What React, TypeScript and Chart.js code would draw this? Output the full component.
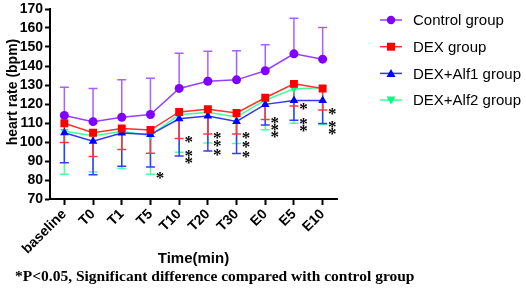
import React, { useEffect, useRef } from 'react';
import { Chart, registerables } from 'chart.js';

Chart.register(...registerables);

const categories = ['baseline', 'T0', 'T1', 'T5', 'T10', 'T20', 'T30', 'E0', 'E5', 'E10'];

const controlMean = [114, 110.7, 113, 114.5, 128.2, 132, 132.7, 137.5, 146.4, 143.6];
const controlUpper = [128.8, 128.2, 132.8, 133.6, 146.7, 147.8, 148, 151.2, 165.1, 160.3];

const dexMean = [109.9, 104.9, 107.1, 106.3, 115.8, 117.2, 115.3, 123.3, 130.6, 128.2];
const dexLower = [99.7, 92.4, 96, 94.1, 101.9, 104.2, 104.2, 111.8, 119, 116.8];

const alf1Mean = [104.9, 100.4, 104.7, 103.9, 112.2, 113.7, 110.8, 119.8, 121.9, 121.9];
const alf1Lower = [89.1, 82.7, 87.2, 86.8, 92.6, 95.2, 94, 108.9, 111.5, 109.7];

const alf2Mean = [105.7, 103.3, 105.5, 103.5, 114.4, 115.6, 113.2, 122, 128, 128.5];
const alf2Lower = [83, 84.2, 86, 83, 94.6, 99.5, 99.2, 106.5, 109.9, 109.2];

// significance vs control (1 = *P<0.05)
const dexSig = [0, 0, 0, 0, 1, 1, 1, 1, 1, 1];
const alf1Sig = [0, 0, 0, 0, 1, 1, 1, 1, 1, 1];
const alf2Sig = [0, 0, 0, 1, 1, 1, 1, 1, 1, 1];

const yTicks = [70, 80, 90, 100, 110, 120, 130, 140, 150, 160, 170];

const seriesNames = ['Control group', 'DEX group', 'DEX+Alf1 group', 'DEX+Alf2 group'];

const POINT = ['#7F00FF', '#FF0000', '#0000FF', '#00FF80'];
const LINE = ['#9440FF', '#FF3030', '#3535FF', '#40FF99'];
const BAR = ['#A860FF', '#FF3A3A', '#3A3AFF', '#4DFF9E'];

const SANS = '"Liberation Sans", Arial, sans-serif';
const SERIF = '"Liberation Serif", "Times New Roman", serif';

function drawMarker(ctx: CanvasRenderingContext2D, kind: number, x: number, y: number, color: string) {
  ctx.save();
  ctx.fillStyle = color;
  ctx.beginPath();
  if (kind === 0) {
    ctx.arc(x, y, 4.2, 0, Math.PI * 2);
  } else if (kind === 1) {
    ctx.rect(x - 4, y - 4, 8, 8);
  } else if (kind === 2) {
    ctx.moveTo(x, y - 4.5);
    ctx.lineTo(x + 4.5, y + 3.5);
    ctx.lineTo(x - 4.5, y + 3.5);
    ctx.closePath();
  } else {
    ctx.moveTo(x, y + 4.5);
    ctx.lineTo(x + 4.5, y - 3.5);
    ctx.lineTo(x - 4.5, y - 3.5);
    ctx.closePath();
  }
  ctx.fill();
  ctx.restore();
}

export default function App() {
  const ref = useRef<HTMLCanvasElement>(null);

  useEffect(() => {
    const canvas = ref.current;
    if (!canvas) return;

    const means = [controlMean, dexMean, alf1Mean, alf2Mean];
    const bounds = [controlUpper, dexLower, alf1Lower, alf2Lower];
    const sigs = [null, dexSig, alf1Sig, alf2Sig];

    const errorBars = {
      id: 'errorBars',
      beforeDatasetsDraw(chart: any) {
        const ctx = chart.ctx as CanvasRenderingContext2D;
        const ys = chart.scales.y;
        ctx.save();
        ctx.lineWidth = 1.5;
        for (let d = 3; d >= 0; d--) {
          const meta = chart.getDatasetMeta(d);
          ctx.strokeStyle = BAR[d];
          meta.data.forEach((pt: any, j: number) => {
            const x = pt.x;
            const y0 = ys.getPixelForValue(means[d][j]);
            const y1 = ys.getPixelForValue(bounds[d][j]);
            ctx.beginPath();
            ctx.moveTo(x, y0);
            ctx.lineTo(x, y1);
            ctx.moveTo(x - 4.5, y1);
            ctx.lineTo(x + 4.5, y1);
            ctx.stroke();
          });
        }
        ctx.restore();
      },
      afterDatasetsDraw(chart: any) {
        const ctx = chart.ctx as CanvasRenderingContext2D;
        const ys = chart.scales.y;
        const xs = chart.scales.x;
        ctx.save();
        ctx.fillStyle = '#000';
        ctx.font = `bold 17px ${SERIF}`;
        ctx.textAlign = 'center';
        ctx.textBaseline = 'alphabetic';
        categories.forEach((_, j) => {
          const x = xs.getPixelForValue(j) + 9.5;
          const list: number[] = [];
          for (let d = 1; d < 4; d++) {
            const s = sigs[d] as number[];
            if (s[j]) list.push(ys.getPixelForValue(bounds[d][j]));
          }
          list.sort((a, b) => a - b);
          let prev = -1000;
          list.forEach((y) => {
            const yy = Math.max(y, prev + 7);
            prev = yy;
            ctx.fillText('*', x, yy + 8.5);
          });
        });
        ctx.restore();
      },
      afterDraw(chart: any) {
        const ctx = chart.ctx as CanvasRenderingContext2D;
        ctx.save();
        // legend
        ctx.font = `15px ${SANS}`;
        ctx.textBaseline = 'middle';
        ctx.textAlign = 'left';
        seriesNames.forEach((name, i) => {
          const y = 20 + i * 26.7;
          ctx.strokeStyle = LINE[i];
          ctx.lineWidth = 1.5;
          ctx.beginPath();
          ctx.moveTo(380, y);
          ctx.lineTo(402, y);
          ctx.stroke();
          drawMarker(ctx, i, 391, y, POINT[i]);
          ctx.fillStyle = '#000';
          ctx.fillText(name, 413, y + 1);
        });
        // y title
        ctx.save();
        ctx.translate(13, 92);
        ctx.rotate(-Math.PI / 2);
        ctx.font = `bold 14px ${SANS}`;
        ctx.textAlign = 'center';
        ctx.textBaseline = 'middle';
        ctx.fillStyle = '#000';
        ctx.fillText('heart rate (bpm)', 0, 0);
        ctx.restore();
        // footnote
        ctx.font = `bold 15.5px ${SERIF}`;
        ctx.textAlign = 'left';
        ctx.textBaseline = 'middle';
        ctx.fillStyle = '#000';
        ctx.fillText('*P<0.05, Significant difference compared with control group', 15, 277);
        ctx.restore();
      },
    };

    const pointStyles = ['circle', 'rect', 'triangle', 'triangle'];
    const radii = [4.5, 5.6, 5, 4.5];

    const chart = new Chart(canvas, {
      type: 'line',
      data: {
        labels: categories,
        datasets: means.map((m, i) => ({
          label: seriesNames[i],
          data: m,
          borderColor: LINE[i],
          backgroundColor: POINT[i],
          borderWidth: 1.5,
          pointStyle: pointStyles[i] as any,
          pointRadius: radii[i],
          pointRotation: i === 3 ? 180 : 0,
          pointBackgroundColor: POINT[i],
          pointBorderColor: POINT[i],
          pointBorderWidth: 0,
          tension: 0,
          fill: false,
        })),
      },
      options: {
        responsive: false,
        animation: false,
        layout: { padding: { left: 0, right: 189, top: 7, bottom: 0 } },
        plugins: {
          legend: { display: false },
          tooltip: { enabled: false },
          title: { display: false },
        },
        scales: {
          x: {
            type: 'category',
            offset: true,
            grid: {
              drawOnChartArea: false,
              drawTicks: true,
              tickLength: 6,
              tickColor: '#000',
              tickWidth: 2,
            },
            border: { display: true, color: '#000', width: 2 },
            ticks: {
              color: '#000',
              font: { family: SANS, size: 14, weight: 'bold' },
              maxRotation: 45,
              minRotation: 45,
              padding: 1,
              autoSkip: false,
            },
            title: {
              display: true,
              text: 'Time(min)',
              color: '#000',
              font: { family: SANS, size: 15, weight: 'bold' },
              padding: { top: 0, bottom: 21 },
            },
            afterFit(scale: any) {
              scale.height = 90;
            },
          },
          y: {
            min: 70,
            max: 170,
            afterBuildTicks(scale: any) {
              scale.ticks = yTicks.map((v) => ({ value: v }));
            },
            grid: {
              drawOnChartArea: false,
              drawTicks: true,
              tickLength: 5,
              tickColor: '#000',
              tickWidth: 2,
            },
            border: { display: true, color: '#000', width: 2 },
            ticks: {
              color: '#000',
              font: { family: SANS, size: 14, weight: 'bold', lineHeight: 1 },
              padding: 2,
            },
            afterFit(scale: any) {
              scale.width = 50;
            },
          },
        },
      } as any,
      plugins: [errorBars],
    });

    return () => chart.destroy();
  }, []);

  return (
    <div style={{ position: 'fixed', left: 0, top: 0, width: 526, height: 289, background: '#fff' }}>
      <canvas ref={ref} width={526} height={289} style={{ display: 'block' }} />
    </div>
  );
}
